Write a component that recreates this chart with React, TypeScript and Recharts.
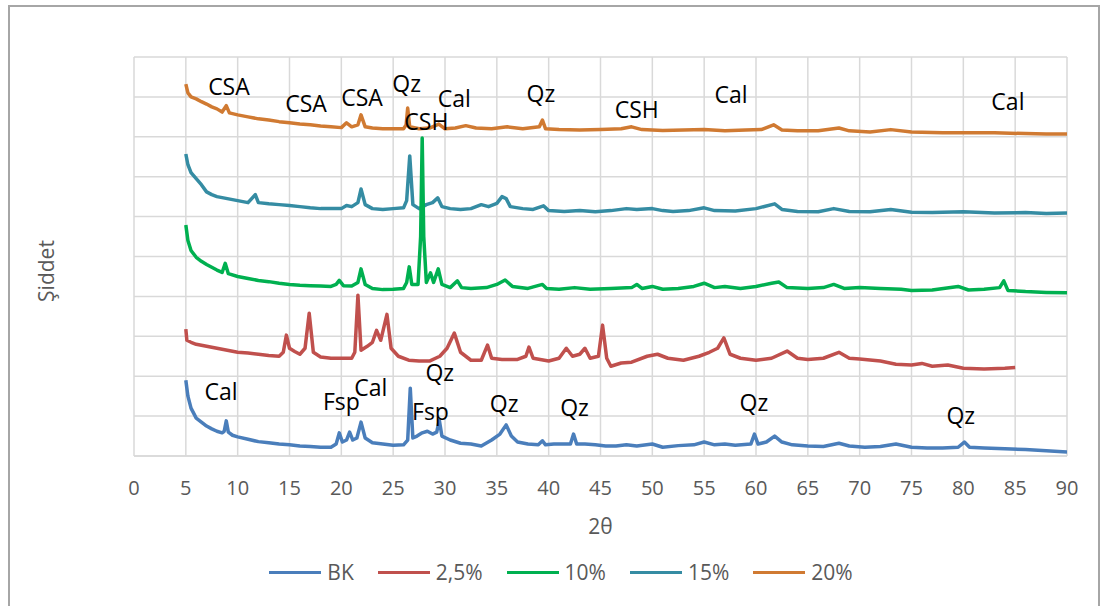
import { LineChart, Line, XAxis, YAxis, CartesianGrid, ReferenceDot } from "recharts";

const xTicks = [0, 5, 10, 15, 20, 25, 30, 35, 40, 45, 50, 55, 60, 65, 70, 75, 80, 85, 90];
const yTicks = [0, 1, 2, 3, 4, 5, 6, 7, 8, 9, 10];

const seriesNames = ["BK", "2,5%", "10%", "15%", "20%"];
const seriesColors = ["#4a7ebb", "#c0504d", "#00b050", "#358ca3", "#d07a32"];

// [2θ, relative intensity]
const bk: [number, number][] = [
  [5.0, 1.9], [5.2, 1.5], [5.5, 1.2], [6, 0.95], [6.5, 0.85], [7, 0.75], [7.5, 0.68], [8, 0.62],
  [8.5, 0.58], [8.7, 0.62], [8.9, 0.88], [9.1, 0.6], [9.5, 0.52], [10, 0.48], [11, 0.42], [12, 0.36],
  [13, 0.33], [14, 0.3], [15, 0.28], [16, 0.25], [17, 0.24], [18, 0.22], [19, 0.22], [19.5, 0.3],
  [19.8, 0.58], [20.1, 0.35], [20.5, 0.4], [20.8, 0.6], [21.1, 0.4], [21.5, 0.45], [21.9, 0.85],
  [22.3, 0.45], [23, 0.33], [24, 0.3], [25, 0.27], [26, 0.28], [26.4, 0.4], [26.65, 1.7], [26.9, 0.45],
  [27.3, 0.5], [27.8, 0.58], [28.3, 0.62], [28.8, 0.55], [29.2, 0.6], [29.45, 0.9], [29.7, 0.5],
  [30.5, 0.4], [31.5, 0.32], [32.5, 0.3], [33.5, 0.25], [34.5, 0.4], [35.3, 0.55], [35.9, 0.78],
  [36.4, 0.5], [37, 0.35], [38, 0.3], [39, 0.28], [39.4, 0.38], [39.7, 0.28], [40.5, 0.3], [41.5, 0.3],
  [42.1, 0.3], [42.4, 0.55], [42.7, 0.3], [43.5, 0.3], [44.5, 0.28], [45.5, 0.25], [46.5, 0.25],
  [47.5, 0.28], [48.5, 0.25], [50, 0.3], [51, 0.22], [52.5, 0.26], [54, 0.28], [55, 0.35], [56, 0.28],
  [57, 0.3], [58, 0.27], [59.5, 0.3], [59.85, 0.55], [60.2, 0.3], [61, 0.35], [61.8, 0.5], [62.5, 0.35],
  [63.5, 0.28], [65, 0.25], [66.5, 0.24], [68, 0.32], [69, 0.25], [70.5, 0.22], [72, 0.24], [73.5, 0.3],
  [75, 0.22], [76.5, 0.2], [78, 0.2], [79.5, 0.22], [80.1, 0.35], [80.6, 0.22], [82, 0.2], [84, 0.18],
  [86, 0.16], [88, 0.13], [90, 0.1],
];

const p25: [number, number][] = [
  [5.0, 3.18], [5.1, 2.9], [5.5, 2.85], [6, 2.8], [7, 2.75], [8, 2.7], [9, 2.65], [10, 2.6], [11, 2.58],
  [12, 2.55], [13, 2.52], [14, 2.5], [14.4, 2.6], [14.7, 3.03], [15.0, 2.7], [15.5, 2.62], [16, 2.55],
  [16.5, 2.7], [16.9, 3.58], [17.3, 2.6], [18, 2.48], [19, 2.45], [20, 2.45], [21, 2.45], [21.3, 2.6],
  [21.6, 4.03], [21.9, 2.65], [22.5, 2.75], [23, 2.85], [23.4, 3.15], [23.8, 2.9], [24.4, 3.55],
  [24.8, 2.7], [25.5, 2.5], [26.5, 2.4], [27.5, 2.38], [28.5, 2.38], [29.5, 2.5], [30.2, 2.7],
  [30.9, 3.08], [31.5, 2.6], [32.5, 2.4], [33.5, 2.4], [34.1, 2.78], [34.5, 2.45], [35.5, 2.42],
  [37, 2.42], [37.8, 2.5], [38.1, 2.73], [38.5, 2.45], [40, 2.38], [41, 2.45], [41.7, 2.7], [42.3, 2.5],
  [43, 2.55], [43.5, 2.7], [44, 2.45], [44.8, 2.5], [45.2, 3.28], [45.6, 2.45], [46, 2.25], [47, 2.33],
  [48, 2.35], [49.5, 2.5], [50.5, 2.55], [51.5, 2.45], [53, 2.4], [54.5, 2.5], [55.5, 2.6], [56.3, 2.7],
  [56.9, 2.96], [57.5, 2.55], [58.5, 2.45], [60, 2.4], [61.5, 2.45], [63, 2.63], [64, 2.45], [65, 2.42],
  [66.5, 2.45], [68, 2.6], [69, 2.45], [70, 2.43], [72, 2.38], [73.5, 2.3], [75, 2.28], [76, 2.32],
  [77, 2.25], [78.5, 2.28], [80, 2.2], [82, 2.18], [84, 2.2], [85, 2.22],
];

const p10: [number, number][] = [
  [5.0, 5.79], [5.2, 5.4], [5.5, 5.15], [6, 4.98], [6.5, 4.88], [7, 4.8], [7.5, 4.73], [8, 4.66],
  [8.5, 4.6], [8.8, 4.83], [9.1, 4.57], [10, 4.5], [11, 4.45], [12, 4.4], [13, 4.37], [14, 4.33],
  [15, 4.3], [16, 4.28], [17, 4.27], [18, 4.26], [19, 4.25], [19.5, 4.3], [19.8, 4.4], [20.2, 4.27],
  [21, 4.26], [21.6, 4.35], [21.9, 4.69], [22.3, 4.3], [23, 4.2], [24, 4.17], [25, 4.18], [26, 4.2],
  [26.3, 4.35], [26.55, 4.74], [26.8, 4.3], [27.4, 4.3], [27.65, 5.5], [27.8, 7.97], [27.95, 5.5],
  [28.2, 4.35], [28.6, 4.59], [28.9, 4.35], [29.35, 4.69], [29.7, 4.3], [30.5, 4.22], [31.2, 4.39],
  [31.6, 4.22], [32.5, 4.2], [34, 4.22], [35, 4.3], [35.8, 4.41], [36.5, 4.25], [38, 4.2], [39.4, 4.3],
  [39.8, 4.2], [41, 4.18], [42.5, 4.22], [44, 4.18], [46, 4.2], [48, 4.22], [48.5, 4.3], [49, 4.2],
  [50, 4.25], [51, 4.18], [52.5, 4.2], [54, 4.25], [55, 4.33], [56, 4.22], [57, 4.25], [58.5, 4.2],
  [60, 4.25], [61.5, 4.33], [62.2, 4.36], [63, 4.22], [65, 4.2], [66.5, 4.22], [67.5, 4.3], [68.5, 4.2],
  [70, 4.22], [72, 4.2], [74, 4.18], [75, 4.15], [77, 4.16], [79.5, 4.25], [80.5, 4.16], [82, 4.18],
  [83.5, 4.22], [83.9, 4.39], [84.3, 4.15], [86, 4.12], [88, 4.1], [90, 4.09],
];

const p15: [number, number][] = [
  [5.0, 7.57], [5.2, 7.3], [5.5, 7.1], [6, 6.95], [6.5, 6.8], [7, 6.62], [7.5, 6.55], [8, 6.5],
  [9, 6.45], [10, 6.4], [11, 6.35], [11.7, 6.55], [12, 6.35], [13, 6.32], [14, 6.3], [15, 6.28],
  [16, 6.25], [17, 6.22], [18, 6.2], [19, 6.2], [20, 6.2], [20.5, 6.28], [21, 6.25], [21.6, 6.35],
  [21.9, 6.69], [22.3, 6.3], [23, 6.2], [24, 6.18], [25, 6.2], [26, 6.22], [26.3, 6.4], [26.6, 7.52],
  [26.9, 6.3], [27.5, 6.2], [28.2, 6.3], [28.8, 6.35], [29.3, 6.47], [29.7, 6.25], [30.5, 6.2],
  [31.5, 6.18], [32.5, 6.2], [33.5, 6.3], [34.2, 6.25], [35, 6.33], [35.5, 6.5], [35.9, 6.45],
  [36.3, 6.25], [37.5, 6.2], [38.5, 6.18], [39.5, 6.27], [40, 6.15], [41.5, 6.13], [43, 6.15],
  [44.5, 6.12], [46, 6.15], [47.5, 6.2], [48.5, 6.18], [50, 6.2], [51, 6.15], [52, 6.13], [53.5, 6.15],
  [55, 6.22], [56, 6.15], [58, 6.14], [60, 6.2], [61.8, 6.32], [62.5, 6.18], [64, 6.13], [66, 6.12],
  [67.5, 6.2], [69, 6.13], [71, 6.12], [73, 6.18], [75, 6.11], [77, 6.1], [80, 6.12], [83, 6.09],
  [86, 6.1], [88, 6.08], [90, 6.09],
];

const p20: [number, number][] = [
  [5.0, 9.32], [5.2, 9.1], [5.5, 9.0], [6, 8.95], [6.5, 8.88], [7, 8.82], [7.5, 8.75], [8, 8.7],
  [8.5, 8.62], [8.9, 8.78], [9.2, 8.6], [10, 8.55], [11, 8.5], [12, 8.45], [13, 8.42], [14, 8.38],
  [15, 8.35], [16, 8.32], [17, 8.3], [18, 8.27], [19, 8.25], [20, 8.23], [20.5, 8.35], [21, 8.25],
  [21.6, 8.3], [21.9, 8.55], [22.3, 8.25], [23, 8.22], [24, 8.2], [25, 8.2], [26, 8.2], [26.25, 8.3],
  [26.4, 8.72], [26.6, 8.25], [27.5, 8.2], [28.5, 8.22], [29.4, 8.32], [30, 8.2], [31, 8.22],
  [32, 8.28], [33, 8.22], [34.5, 8.2], [36, 8.25], [37.5, 8.2], [39.1, 8.25], [39.4, 8.42], [39.7, 8.2],
  [41, 8.18], [43, 8.17], [45, 8.18], [47, 8.2], [48, 8.25], [49, 8.18], [51, 8.16], [53, 8.17],
  [55, 8.18], [57, 8.15], [59, 8.17], [60.5, 8.18], [61.7, 8.3], [62.5, 8.17], [64, 8.15], [66, 8.15],
  [68, 8.22], [69, 8.15], [71, 8.12], [73, 8.18], [75, 8.12], [78, 8.1], [80, 8.1], [83, 8.1],
  [86, 8.08], [88, 8.07], [90, 8.07],
];

const peakLabels = [
  { text: "CSA", x: 9.16, y: 9.25 },
  { text: "CSA", x: 16.6, y: 8.82 },
  { text: "CSA", x: 22.0, y: 8.97 },
  { text: "Qz", x: 26.3, y: 9.32 },
  { text: "Cal", x: 30.9, y: 8.95 },
  { text: "CSH", x: 28.2, y: 8.37 },
  { text: "Qz", x: 39.25, y: 9.07 },
  { text: "CSH", x: 48.5, y: 8.67 },
  { text: "Cal", x: 57.6, y: 9.05 },
  { text: "Cal", x: 84.3, y: 8.87 },
  { text: "Cal", x: 8.4, y: 1.6 },
  { text: "Fsp", x: 20.0, y: 1.35 },
  { text: "Cal", x: 22.85, y: 1.72 },
  { text: "Qz", x: 29.5, y: 2.08 },
  { text: "Fsp", x: 28.6, y: 1.1 },
  { text: "Qz", x: 35.7, y: 1.3 },
  { text: "Qz", x: 42.5, y: 1.2 },
  { text: "Qz", x: 59.8, y: 1.33 },
  { text: "Qz", x: 79.75, y: 1.0 },
];

const allSeries = [bk, p25, p10, p15, p20];
const toPoints = (arr: [number, number][]) => arr.map(([x, y]) => ({ x, y }));

export default function App() {
  // draw from 20% down to BK so the green 10% peak sits over the 15% trace
  const order = [4, 3, 2, 1, 0];

  return (
    <div
      style={{
        position: "fixed",
        left: 0,
        top: 0,
        width: 1105,
        height: 606,
        overflow: "hidden",
        background: "#fff",
        fontFamily: '"Open Sans", sans-serif',
      }}
    >
      {/* chart-area frame */}
      <div
        style={{
          position: "absolute",
          left: 8,
          top: 5,
          width: 1092,
          height: 640,
          boxSizing: "border-box",
          border: "2px solid #a6a6a6",
        }}
      />
      <LineChart
        width={1105}
        height={606}
        margin={{ top: 57, right: 38, bottom: 70, left: 134 }}
        style={{ position: "absolute", left: 0, top: 0 }}
      >
        <CartesianGrid stroke="#d9d9d9" strokeWidth={1.5} />
        <XAxis
          dataKey="x"
          type="number"
          domain={[0, 90]}
          ticks={xTicks}
          allowDataOverflow
          height={80}
          tickLine={false}
          axisLine={{ stroke: "#d9d9d9", strokeWidth: 1.5 }}
          tick={{ fill: "#595959", fontSize: 20 }}
          tickMargin={19}
          label={{ value: "2θ", position: "insideBottom", offset: 2, fill: "#595959", fontSize: 21 }}
        />
        <YAxis
          type="number"
          domain={[0, 10]}
          ticks={yTicks}
          width={0}
          tick={{ fill: "none", fontSize: 1 }}
          tickLine={false}
          axisLine={false}
        />
        {order.map((i) => (
          <Line
            key={seriesNames[i]}
            data={toPoints(allSeries[i])}
            dataKey="y"
            name={seriesNames[i]}
            type="linear"
            stroke={seriesColors[i]}
            strokeWidth={3.5}
            strokeLinejoin="round"
            dot={false}
            isAnimationActive={false}
          />
        ))}
        {peakLabels.map((l, i) => (
          <ReferenceDot
            key={i}
            x={l.x}
            y={l.y}
            r={0}
            fill="none"
            stroke="none"
            ifOverflow="visible"
            label={{ value: l.text, position: "center", fill: "#000", fontSize: 23 }}
          />
        ))}
      </LineChart>

      <div
        style={{
          position: "absolute",
          left: 46,
          top: 271,
          transform: "translate(-50%, -50%) rotate(-90deg)",
          color: "#595959",
          fontSize: 21,
          whiteSpace: "nowrap",
        }}
      >
        Şiddet
      </div>

      <div
        style={{
          position: "absolute",
          left: 0,
          width: 1122,
          top: 558,
          display: "flex",
          justifyContent: "center",
          gap: 24,
          color: "#595959",
          fontSize: 21,
        }}
      >
        {seriesNames.map((n, i) => (
          <div key={n} style={{ display: "flex", alignItems: "center", gap: 6 }}>
            <div style={{ width: 52, height: 3, background: seriesColors[i] }} />
            <span>{n}</span>
          </div>
        ))}
      </div>
    </div>
  );
}
